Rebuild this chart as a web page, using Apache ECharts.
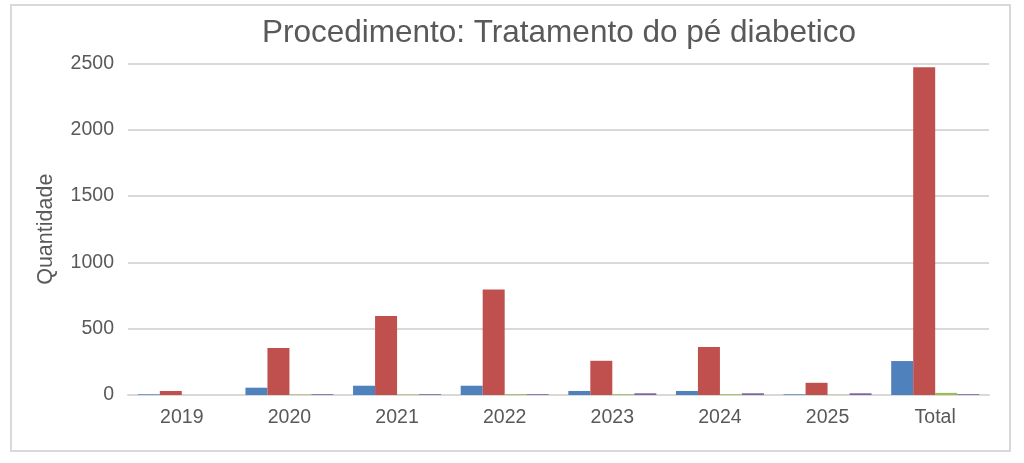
<!DOCTYPE html>
<html>
<head>
<meta charset="utf-8">
<script src="https://cdn.jsdelivr.net/npm/echarts@6/dist/echarts.min.js"></script>
<style>
  html, body { margin: 0; padding: 0; background: #fff; }
  #main { width: 1024px; height: 463px; }
</style>
</head>
<body>
<div id="main"></div>
<script>
// dados
const anos = ['2019', '2020', '2021', '2022', '2023', '2024', '2025', 'Total']
const serie1 = [5, 55, 70, 70, 30, 30, 5, 256]
const serie2 = [30, 355, 595, 795, 258, 362, 92, 2472]
const serie3 = [0, 4, 4, 6, 6, 6, 2, 16]
const serie4 = [0, 6, 6, 6, 13, 13, 13, 6]
const yTicks = [0, 500, 1000, 1500, 2000, 2500]

const cores = ['#4F81BD', '#C0504D', '#9BBB59', '#8064A2']
const textColor = '#595959'
const fonte = 'Liberation Sans, Arial, sans-serif'

const myChart = echarts.init(document.getElementById('main'))

const barra = (nome, dados, cor) => ({
  name: nome,
  type: 'bar',
  data: dados,
  barWidth: 22,
  barGap: '0%',
  itemStyle: { color: cor }
})

const option = {
  animation: false,
  backgroundColor: '#fff',
  title: {
    text: 'Procedimento: Tratamento do pé diabetico',
    left: 554,
    textAlign: 'center',
    top: 12,
    textStyle: {
      color: textColor,
      fontFamily: fonte,
      fontSize: 31.5,
      fontWeight: 'normal'
    }
  },
  graphic: [
    {
      type: 'rect',
      shape: { x: 11, y: 5, width: 999, height: 446 },
      style: { fill: 'none', stroke: '#D9D9D9', lineWidth: 2 },
      silent: true
    }
  ],
  grid: {
    left: 128,
    right: 35,
    top: 63.5,
    bottom: 68
  },
  xAxis: {
    type: 'category',
    data: anos,
    axisTick: { show: false },
    axisLine: { lineStyle: { color: '#D9D9D9', width: 2 } },
    axisLabel: {
      color: textColor,
      fontFamily: fonte,
      fontSize: 19.5,
      margin: 13
    }
  },
  yAxis: {
    type: 'value',
    min: yTicks[0],
    max: yTicks[yTicks.length - 1],
    interval: 500,
    name: 'Quantidade',
    nameLocation: 'middle',
    nameGap: 71,
    nameRotate: 90,
    nameTextStyle: {
      color: textColor,
      fontFamily: fonte,
      fontSize: 21.5
    },
    axisLine: { show: false },
    axisTick: { show: false },
    axisLabel: {
      color: textColor,
      fontFamily: fonte,
      fontSize: 19.5,
      margin: 14,
      formatter: v => String(v)
    },
    splitLine: { lineStyle: { color: '#D9D9D9', width: 2 } }
  },
  series: [
    barra('Série 1', serie1, cores[0]),
    barra('Série 2', serie2, cores[1]),
    barra('Série 3', serie3, cores[2]),
    barra('Série 4', serie4, cores[3])
  ]
}
myChart.setOption(option)
</script>
</body>
</html>
